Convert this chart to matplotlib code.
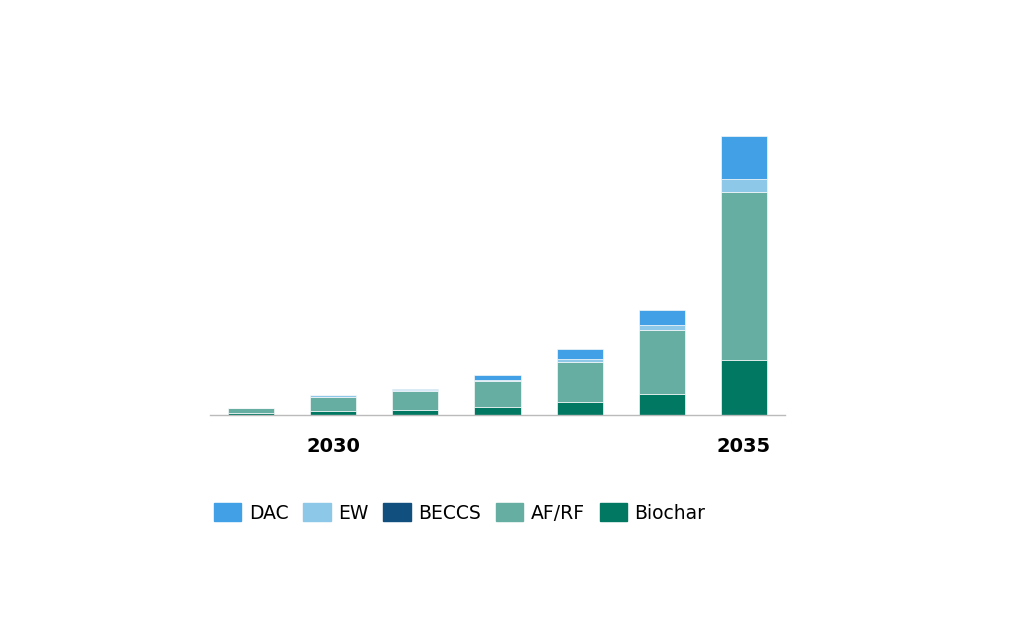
import numpy as np
import matplotlib.pyplot as plt
from matplotlib.patches import Patch

# carbon removal by method, stacked per year
years = [2029, 2030, 2031, 2032, 2033, 2034, 2035]
biochar = [1.6, 3.6, 4.6, 7.7, 13.4, 20.6, 55.3]
af_rf = [5.0, 14.7, 19.4, 26.0, 39.6, 64.0, 167.3]
beccs = [0, 0, 0, 0, 0, 0, 0]
ew = [0.0, 1.5, 1.3, 1.7, 3.0, 5.4, 13.4]
dac = [0.0, 0.2, 1.0, 5.0, 10.0, 15.3, 42.6]
tick_years = [2030, 2035]

series = [("Biochar", biochar, "#007862"),
          ("AF/RF", af_rf, "#66AEA1"),
          ("BECCS", beccs, "#114F7F"),
          ("EW", ew, "#8EC8E8"),
          ("DAC", dac, "#42A0E6")]

fig = plt.figure(figsize=(10.24, 6.4), dpi=100)
ax = fig.add_axes([210 / 1024, 225 / 640, 575 / 1024, 300 / 640])

x = np.arange(len(years))
bottom = np.zeros(len(years))
for name, vals, col in series:
    vals = np.array(vals, dtype=float)
    ax.bar(x, vals, width=0.56, bottom=bottom, color=col,
           edgecolor="#F4F8F8", linewidth=0.5, label=name)
    bottom += vals

ax.set_xlim(-0.5, 6.5)
ax.set_ylim(0, 300)
ax.set_xticks([years.index(y) for y in tick_years])
ax.set_xticklabels([str(y) for y in tick_years], fontsize=14, fontweight="bold")
ax.tick_params(axis="x", length=0, pad=16)
ax.set_yticks([])
for s in ["top", "right", "left"]:
    ax.spines[s].set_visible(False)
ax.spines["bottom"].set_color("#BBBBBB")
ax.spines["bottom"].set_linewidth(1.0)

handles = [Patch(color=col, label=name) for name, vals, col in reversed(series)]
fig.legend(handles=handles, loc="center left", bbox_to_anchor=(214 / 1024, 1 - 513 / 640),
           ncol=5, frameon=False, fontsize=13.5, handlelength=1.45, handleheight=1.05,
           handletextpad=0.4, columnspacing=0.8, borderpad=0, borderaxespad=0)

fig.savefig("out.png", dpi=100, facecolor="white")
